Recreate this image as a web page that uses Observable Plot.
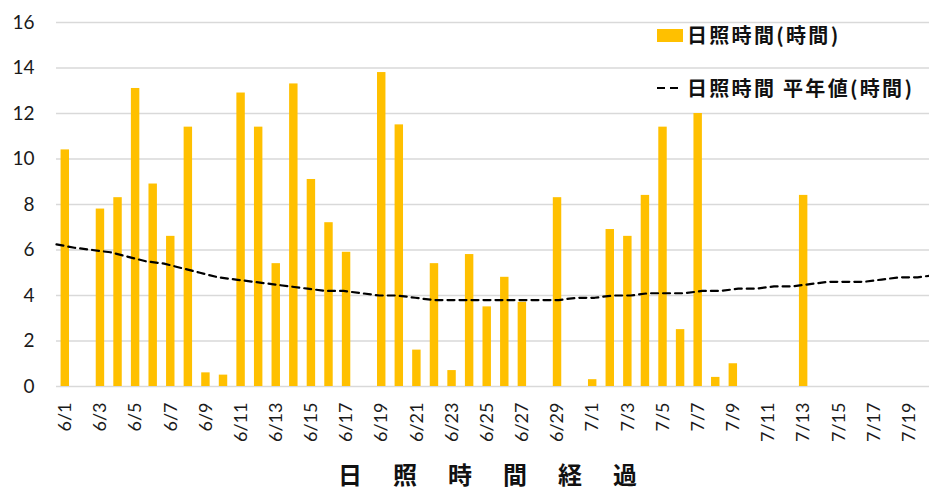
<!DOCTYPE html>
<html><head><meta charset="utf-8">
<script src="https://cdn.jsdelivr.net/npm/d3@7"></script>
<script src="https://cdn.jsdelivr.net/npm/@observablehq/plot@0.6"></script>
<style>
body{margin:0;background:#fff}
#wrap{position:relative;width:929px;height:495px;overflow:hidden}
#wrap > svg{position:absolute;left:0;top:0;max-width:none !important;width:935px !important;height:495px !important}
.lg{position:absolute;font-family:"Noto Sans CJK JP";font-weight:bold;font-size:20px;letter-spacing:2.3px;color:#111;line-height:1;white-space:nowrap}
#title{position:absolute;left:338px;top:462px;font-family:"Noto Sans CJK JP";font-weight:bold;font-size:24px;letter-spacing:31px;color:#111;line-height:1;white-space:nowrap}
</style></head>
<body><div id="wrap"></div>
<script>
const dates = ["6/1","6/2","6/3","6/4","6/5","6/6","6/7","6/8","6/9","6/10",
"6/11","6/12","6/13","6/14","6/15","6/16","6/17","6/18","6/19","6/20",
"6/21","6/22","6/23","6/24","6/25","6/26","6/27","6/28","6/29","6/30",
"7/1","7/2","7/3","7/4","7/5","7/6","7/7","7/8","7/9","7/10",
"7/11","7/12","7/13","7/14","7/15","7/16","7/17","7/18","7/19","7/20"];
const sunshine = [10.4,0,7.8,8.3,13.1,8.9,6.6,11.4,0.6,0.5,
12.9,11.4,5.4,13.3,9.1,7.2,5.9,0,13.8,11.5,
1.6,5.4,0.7,5.8,3.5,4.8,3.7,0,8.3,0,
0.3,6.9,6.6,8.4,11.4,2.5,12.0,0.4,1.0,0,
0,0,8.4,0,0,0,0,0,0,0];
const normal = [6.25,6.1,6.0,5.9,5.7,5.5,5.4,5.2,5.0,4.8,
4.7,4.6,4.5,4.4,4.3,4.2,4.2,4.1,4.0,4.0,
3.9,3.8,3.8,3.8,3.8,3.8,3.8,3.8,3.8,3.9,
3.9,4.0,4.0,4.1,4.1,4.1,4.2,4.2,4.3,4.3,
4.4,4.4,4.5,4.6,4.6,4.6,4.7,4.8,4.8,4.9];
const yTicks = [0,2,4,6,8,10,12,14,16];
const seriesNames = ["日照時間(時間)","日照時間 平年値(時間)"];
const xAxisTitle = "日照時間経過";

const rows = dates.map((d,i)=>({date:d, sun:sunshine[i], norm:normal[i]}));
const shownTicks = dates.filter((d,i)=>i%2===0);

const common = {
  width:935, height:495,
  marginLeft:56, marginRight:0, marginTop:22, marginBottom:109,
  y:{domain:[0,16]}
};

const chart = Plot.plot({
  ...common,
  style:{fontFamily:"Lato, 'Noto Sans', sans-serif", color:"#1a1a1a", background:"#fff"},
  x:{type:"band", domain:dates, paddingInner:0.52, paddingOuter:0.26, align:0.5, round:false},
  marks:[
    Plot.gridY(yTicks,{stroke:"#d9d9d9", strokeOpacity:1, strokeWidth:1.3}),
    Plot.barY(rows,{x:"date", y:"sun", fill:"#FFC000"}),
    Plot.axisY({ticks:yTicks, tickSize:0, tickPadding:22, fontSize:19, label:null}),
    Plot.axisX({ticks:shownTicks, tickSize:0, tickPadding:16, tickRotate:-90, fontSize:18, label:null})
  ]
});
// average line on its own (Excel-like) point axis spanning the full plot width
const lineChart = Plot.plot({
  ...common,
  style:{background:"transparent"},
  x:{type:"point", domain:dates, padding:0, round:false, axis:null},
  axis:null,
  marks:[
    Plot.line(rows,{x:"date", y:"norm", stroke:"#000", strokeWidth:2.2, strokeDasharray:"7,5"})
  ]
});
const wrap = document.getElementById("wrap");
wrap.appendChild(chart);
wrap.appendChild(lineChart);

// legend
const l1 = document.createElement("div");
l1.className="lg"; l1.style.left="657px"; l1.style.top="25px";
l1.innerHTML = '<span style="display:inline-block;width:26px;height:13px;background:#FFC000;vertical-align:1px;margin-right:4px"></span>' + seriesNames[0];
wrap.appendChild(l1);
const l2 = document.createElement("div");
l2.className="lg"; l2.style.left="657px"; l2.style.top="78px";
l2.innerHTML = '<svg width="26" height="10" style="vertical-align:3px;margin-right:4px"><line x1="0" y1="5" x2="26" y2="5" stroke="#000" stroke-width="2.2" stroke-dasharray="8,5"/></svg>' + seriesNames[1];
wrap.appendChild(l2);

const t = document.createElement("div");
t.id="title"; t.textContent = xAxisTitle;
wrap.appendChild(t);
</script>
</body></html>
